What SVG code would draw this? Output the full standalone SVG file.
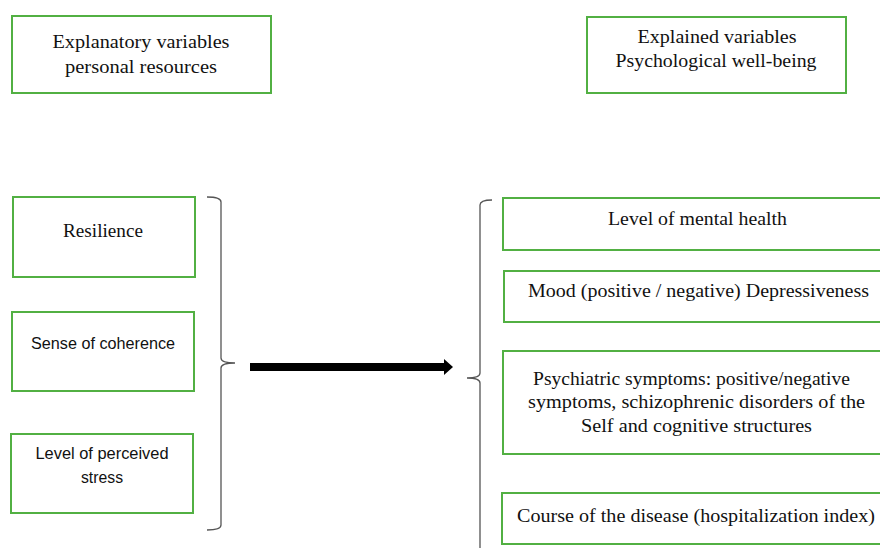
<svg xmlns="http://www.w3.org/2000/svg" width="880" height="548" viewBox="0 0 880 548">
<style>
.box{fill:#fff;stroke:#52b043;stroke-width:2}
.serif{font-family:"Liberation Serif","Times New Roman",serif;font-size:18.5px;fill:#111;text-anchor:middle}
.sans{font-family:"Liberation Sans",Arial,sans-serif;font-size:16px;fill:#111;text-anchor:middle}
.brace{fill:none;stroke:#555;stroke-width:1.3}
</style>
<rect width="880" height="548" fill="#fff"/>
<g id="explanatory">
<rect class="box" x="12" y="16" width="259" height="77"/>
<text class="serif" x="141" y="48" textLength="177" lengthAdjust="spacingAndGlyphs">Explanatory variables</text>
<text class="serif" x="141" y="73" textLength="152" lengthAdjust="spacingAndGlyphs">personal resources</text>
</g>
<g id="explained">
<rect class="box" x="587" y="17" width="259" height="76"/>
<text class="serif" x="717" y="43" textLength="159" lengthAdjust="spacingAndGlyphs">Explained variables</text>
<text class="serif" x="716" y="67" textLength="201" lengthAdjust="spacingAndGlyphs">Psychological well-being</text>
</g>
<g id="resilience">
<rect class="box" x="13" y="197" width="182" height="80"/>
<text class="serif" x="103" y="237" textLength="80" lengthAdjust="spacingAndGlyphs">Resilience</text>
</g>
<g id="coherence">
<rect class="box" x="12" y="312" width="182" height="79"/>
<text class="sans" x="103" y="349" textLength="144" lengthAdjust="spacingAndGlyphs">Sense of coherence</text>
</g>
<g id="stress">
<rect class="box" x="11" y="434" width="182" height="79"/>
<text class="sans" x="102" y="459" textLength="133" lengthAdjust="spacingAndGlyphs">Level of perceived</text>
<text class="sans" x="102" y="483" textLength="42" lengthAdjust="spacingAndGlyphs">stress</text>
</g>
<g id="mental-health">
<rect class="box" x="503" y="198" width="390" height="52"/>
<text class="serif" x="697.5" y="225" textLength="179" lengthAdjust="spacingAndGlyphs">Level of mental health</text>
</g>
<g id="mood">
<rect class="box" x="504" y="271" width="390" height="51"/>
<text class="serif" x="698.5" y="297" textLength="341" lengthAdjust="spacingAndGlyphs">Mood (positive / negative) Depressiveness</text>
</g>
<g id="psychiatric">
<rect class="box" x="503" y="351" width="390" height="103"/>
<text class="serif" x="691.5" y="385" textLength="317" lengthAdjust="spacingAndGlyphs">Psychiatric symptoms: positive/negative</text>
<text class="serif" x="696.5" y="408" textLength="337" lengthAdjust="spacingAndGlyphs">symptoms, schizophrenic disorders of the</text>
<text class="serif" x="696.5" y="432" textLength="231" lengthAdjust="spacingAndGlyphs">Self and cognitive structures</text>
</g>
<g id="course">
<rect class="box" x="502" y="493" width="390" height="51"/>
<text class="serif" x="696" y="522" textLength="358" lengthAdjust="spacingAndGlyphs">Course of the disease (hospitalization index)</text>
</g>
<g id="connectors">
<path class="brace" d="M207,197 Q221,197 221,202 L221,358 Q221,363 235,363 Q221,363 221,368 L221,525 Q221,530 207,530"/>
<path class="brace" d="M492,200 Q480,200 480,205 L480,373 Q480,378 467,378 Q480,378 480,383 L480,548"/>
<rect x="250" y="363" width="196" height="8" fill="#000"/>
<polygon points="444,359 453,367 444,375" fill="#000"/>
</g>
</svg>
